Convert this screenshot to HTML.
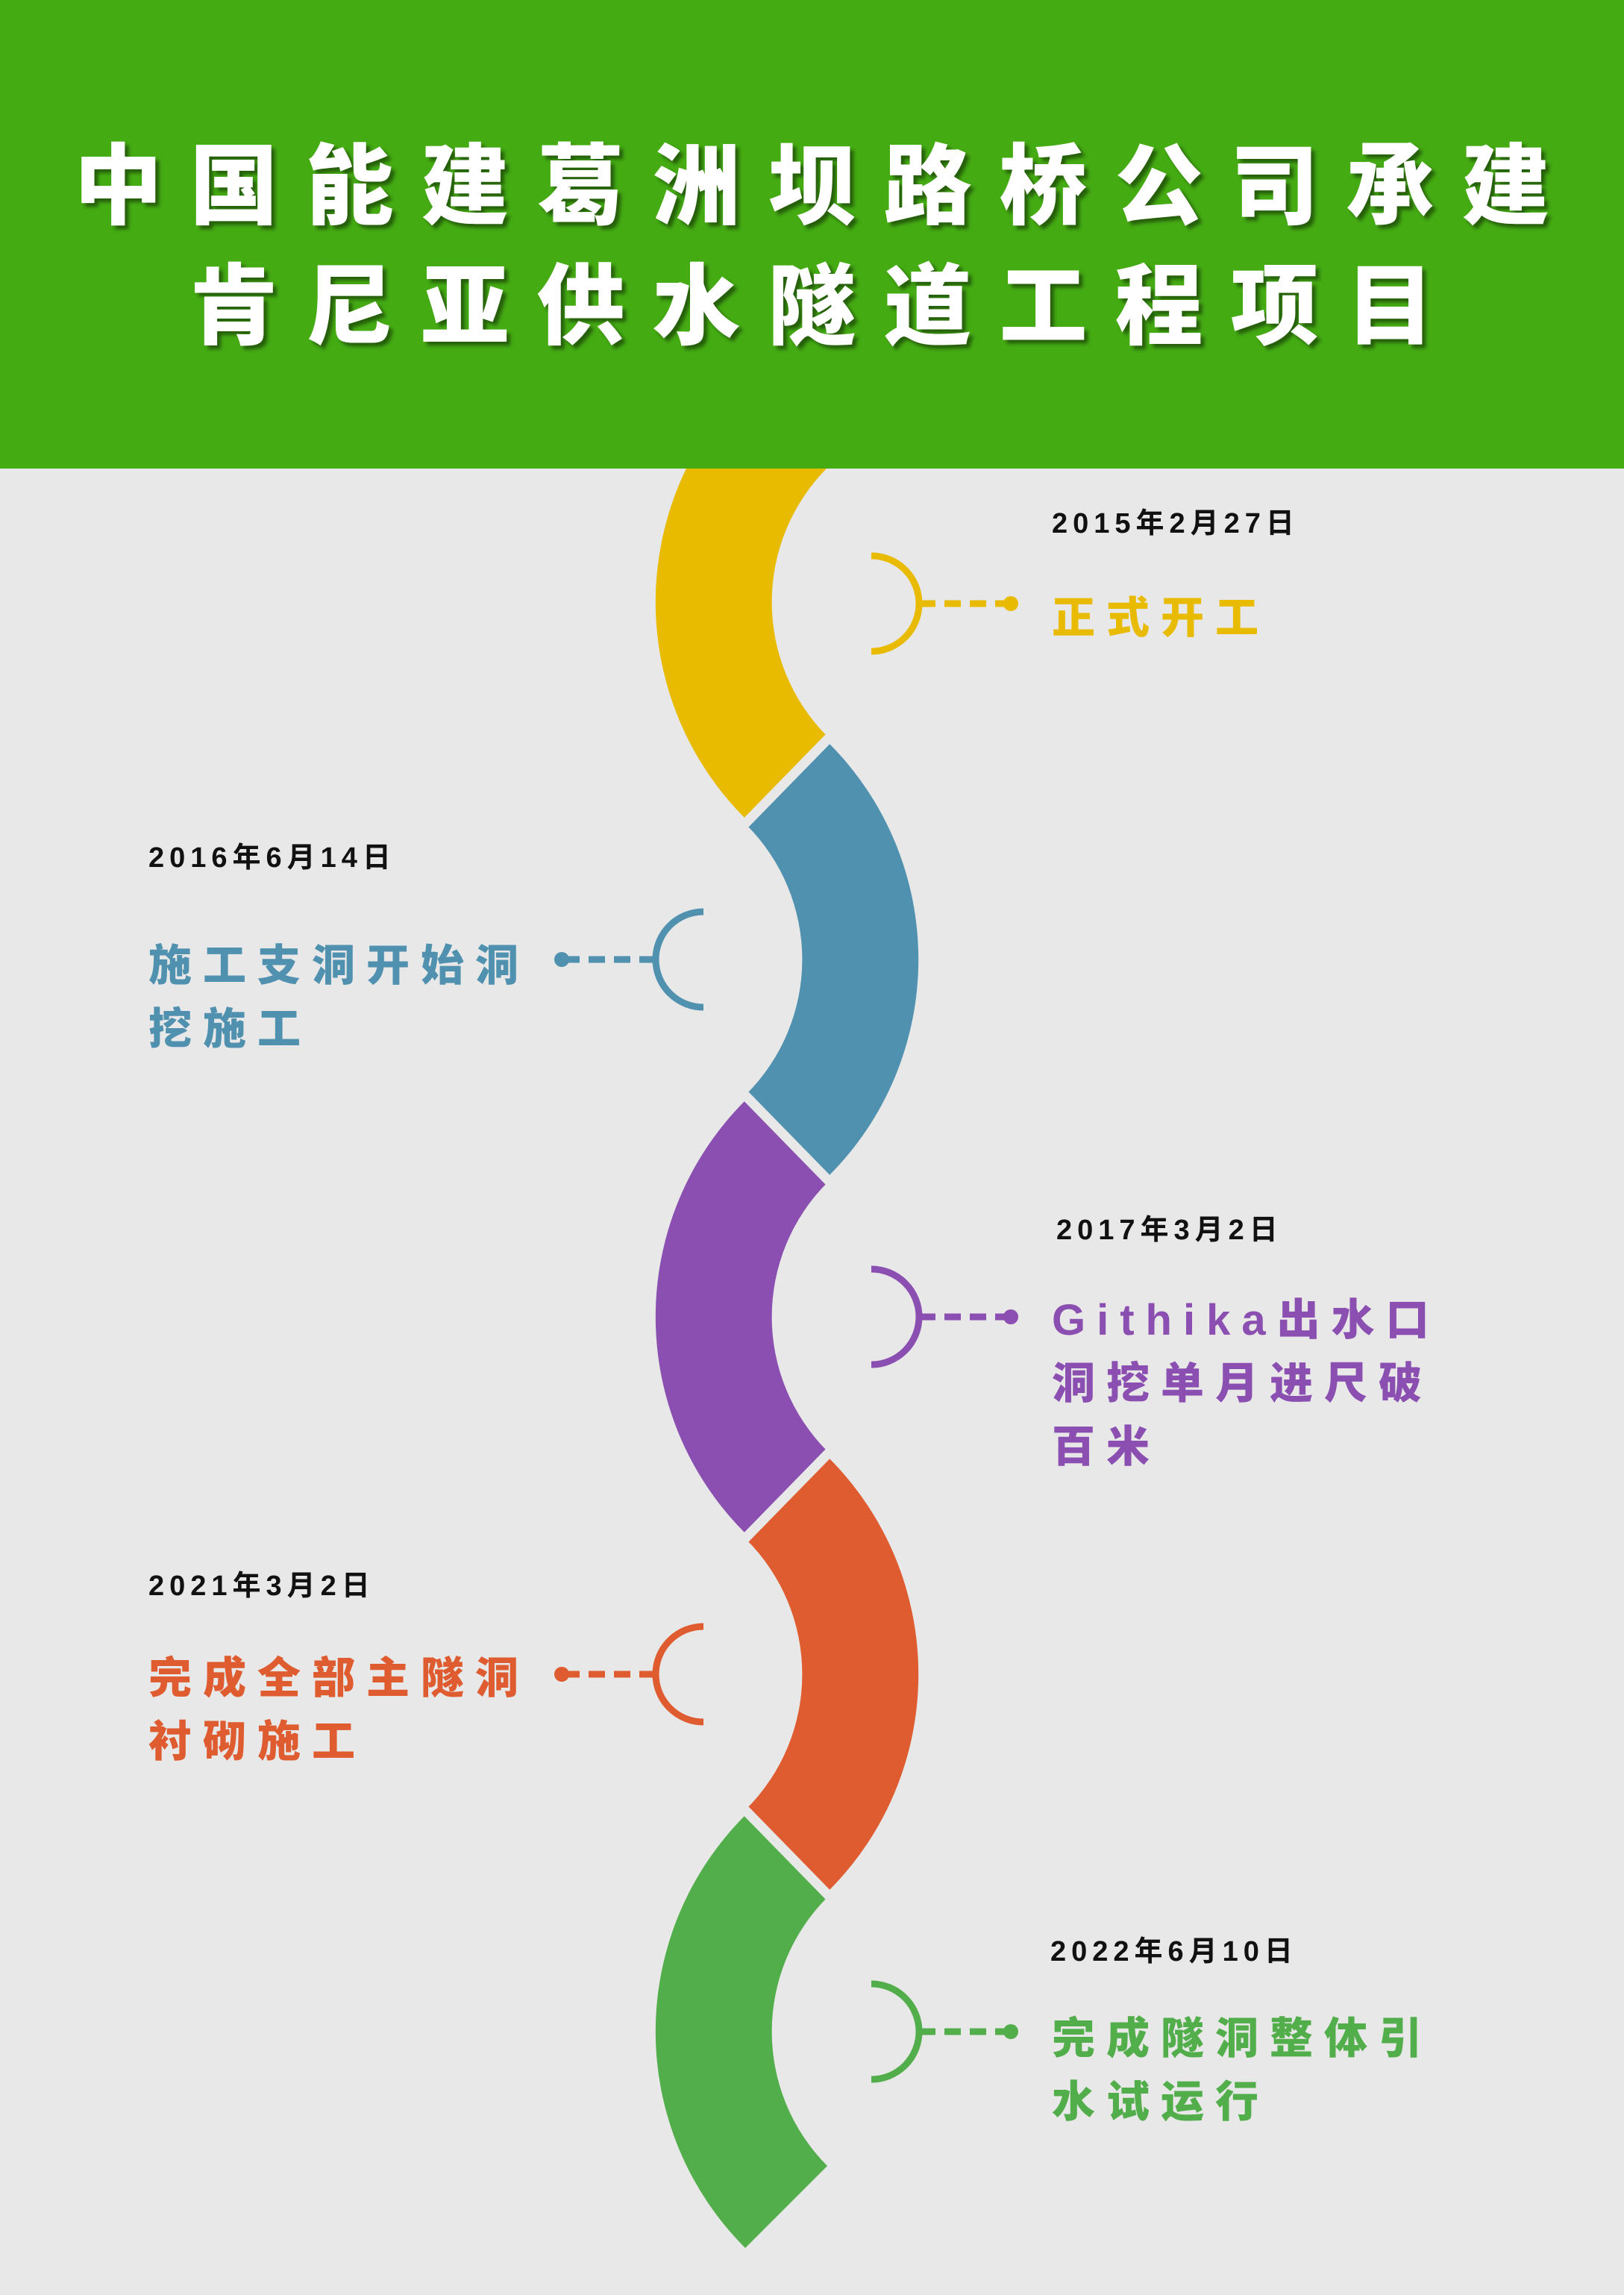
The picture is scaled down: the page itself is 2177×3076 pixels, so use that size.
<!DOCTYPE html>
<html><head><meta charset="utf-8"><style>
html,body{margin:0;padding:0}
body{width:2177px;height:3076px;background:#e8e8e8;position:relative;overflow:hidden;font-family:"Liberation Sans","Noto Sans CJK SC",sans-serif}
.band{position:absolute;left:0;top:0;width:2177px;height:628px;background:#44ab13}
.t{position:absolute;left:0;width:2177px;text-align:center;color:#fff;font-weight:900;font-size:118px;line-height:1;white-space:nowrap;text-shadow:5px 5px 5px rgba(0,0,0,.45)}
.d{position:absolute;font-weight:bold;font-size:38px;line-height:1;letter-spacing:7px;color:#111;white-space:nowrap}
.l{position:absolute;font-weight:900;font-size:58px;line-height:85px;letter-spacing:15px;white-space:nowrap}
svg{position:absolute;left:0;top:0}
</style></head><body>
<svg width="2177" height="3076">
<g>
<path d="M999,517 A410,410 0 0 0 999,1097 L1109,987 A255,255 0 0 1 1109,627 Z" fill="#e8bb00"/>
<path d="M1111,996 A410,410 0 0 1 1111,1576 L1001,1466 A255,255 0 0 0 1001,1106 Z" fill="#4f91af"/>
<path d="M999,1475 A410,410 0 0 0 999,2055 L1109,1945 A255,255 0 0 1 1109,1585 Z" fill="#8a4fb0"/>
<path d="M1111,1954 A410,410 0 0 1 1111,2534 L1001,2424 A255,255 0 0 0 1001,2064 Z" fill="#de5c30"/>
<path d="M999,2433 A410,410 0 0 0 999,3013 L1109,2903 A255,255 0 0 1 1109,2543 Z" fill="#52ae4a"/>
<g stroke="#e8e8e8" stroke-width="13">
<line x1="1289" y1="807" x2="821" y2="1286"/>
<line x1="821" y1="1286" x2="1289" y2="1765"/>
<line x1="1289" y1="1765" x2="821" y2="2244"/>
<line x1="821" y1="2244" x2="1289" y2="2723"/>
</g>
</g>
<g fill="none" stroke-width="9">
<g stroke="#e8bb00"><path d="M1168,745 A64,64 0 0 1 1168,873"/><line x1="1232" y1="809" x2="1350" y2="809" stroke-dasharray="22,12"/></g>
<g stroke="#8a4fb0"><path d="M1168,1701 A64,64 0 0 1 1168,1829"/><line x1="1232" y1="1765" x2="1350" y2="1765" stroke-dasharray="22,12"/></g>
<g stroke="#52ae4a"><path d="M1168,2659 A64,64 0 0 1 1168,2787"/><line x1="1232" y1="2723" x2="1350" y2="2723" stroke-dasharray="22,12"/></g>
<g stroke="#4f91af"><path d="M943,1222 A64,64 0 0 0 943,1350"/><line x1="879" y1="1286" x2="760" y2="1286" stroke-dasharray="22,12"/></g>
<g stroke="#de5c30"><path d="M943,2180 A64,64 0 0 0 943,2308"/><line x1="879" y1="2244" x2="760" y2="2244" stroke-dasharray="22,12"/></g>
</g>
<circle cx="1355" cy="809" r="10" fill="#e8bb00"/>
<circle cx="1355" cy="1765" r="10" fill="#8a4fb0"/>
<circle cx="1355" cy="2723" r="10" fill="#52ae4a"/>
<circle cx="753" cy="1286" r="10" fill="#4f91af"/>
<circle cx="753" cy="2244" r="10" fill="#de5c30"/>
</svg>
<div class="band"></div>
<div class="t" style="top:192px;letter-spacing:37px;padding-left:37px;box-sizing:border-box">中国能建葛洲坝路桥公司承建</div>
<div class="t" style="top:353px;letter-spacing:37px;padding-left:37px;box-sizing:border-box">肯尼亚供水隧道工程项目</div>

<div class="d" style="left:1410px;top:683px">2015年2月27日</div>
<div class="l" style="left:1410px;top:786px;color:#e8bb00">正式开工</div>

<div class="d" style="left:199px;top:1131px">2016年6月14日</div>
<div class="l" style="left:199px;top:1252px;color:#4f91af">施工支洞开始洞<br>挖施工</div>

<div class="d" style="left:1416px;top:1630px">2017年3月2日</div>
<div class="l" style="left:1410px;top:1727px;color:#8a4fb0">Githika出水口<br>洞挖单月进尺破<br>百米</div>

<div class="d" style="left:199px;top:2107px">2021年3月2日</div>
<div class="l" style="left:199px;top:2207px;color:#de5c30">完成全部主隧洞<br>衬砌施工</div>

<div class="d" style="left:1408px;top:2597px">2022年6月10日</div>
<div class="l" style="left:1410px;top:2690px;color:#52ae4a">完成隧洞整体引<br>水试运行</div>
</body></html>
